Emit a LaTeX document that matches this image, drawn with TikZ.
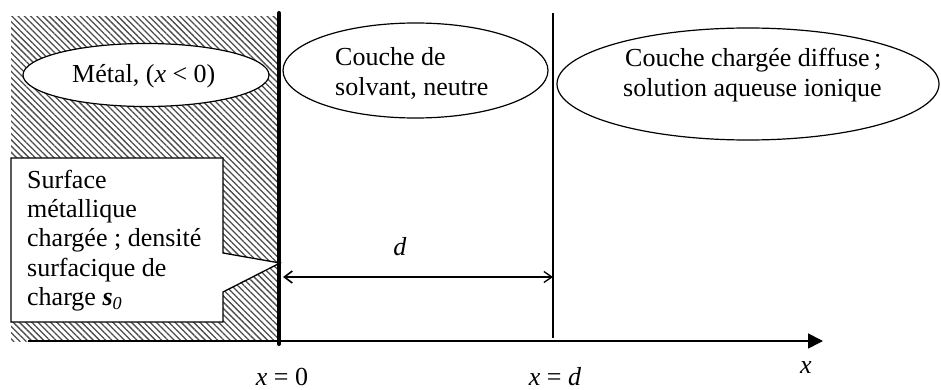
\documentclass[tikz,border=0pt]{standalone}
\usepackage{fontspec}
\setmainfont{Liberation Serif}
\usetikzlibrary{shapes.geometric,patterns.meta,arrows.meta}
\begin{document}
\begin{tikzpicture}[x=1pt,y=-1pt,
  font=\fontsize{26}{30}\selectfont,
  oval/.style={draw, ellipse, line width=1.2pt, inner sep=0pt, fill=white},
  lbl/.style={inner sep=0pt, anchor=base west},
  lblc/.style={inner sep=0pt, anchor=base}]
\useasboundingbox (0,0) rectangle (941,390);
% metal (hatched)
\fill[pattern={Lines[angle=-45,distance=4.4pt,line width=1.3pt]}, pattern color=black!70]
  (11,17) rectangle (279,341);
% callout
\draw[line width=1.3pt, fill=white, line join=miter]
  (11,158) -- (223,158) -- (223,253) -- (280,263) -- (223,292) -- (223,322) -- (11,322) -- cycle;
\node[lbl] (c1) at (27,188) {Surface};
\node[lbl] (c2) at (27,217.4) {métallique};
\node[lbl] (c3) at (27,246.8) {chargée ; densité};
\node[lbl] (c4) at (27,276.2) {surfacique de};
\node[lbl] (c5) at (27,305.6) {charge \textbf{\textit{s}}\textsubscript{\textit{0}}};
% surface line and layer boundary
\coordinate (surfTop) at (279,13);
\coordinate (surfBot) at (279,344);
\draw[line width=4pt, line cap=round] (surfTop) -- (surfBot);
\coordinate (layTop) at (553,13);
\coordinate (layBot) at (553,338);
\draw[line width=1.2pt] (layTop) -- (layBot);
% axis
\coordinate (ax0) at (28,341);
\coordinate (ax1) at (823,341);
\draw[line width=1.6pt, -{Triangle[length=15pt,width=15pt]}] (ax0) -- (ax1);
% d arrow
\coordinate (d0) at (283,277);
\coordinate (d1) at (553,277);
\draw[line width=1.3pt, {Straight Barb[length=8pt,width=12pt,line width=1.6pt]}-{Straight Barb[length=8pt,width=11pt]}] (d0) -- (d1);
\node[lblc] (dl) at (400,255) {\textit{d}};
% ellipses
\node[oval, minimum width=246pt, minimum height=63pt] (metal) at (146,75) {};
\node[lbl] (metaltxt) at (72,83) {Métal, (\textit{x} < 0)};
\node[oval, minimum width=265pt, minimum height=95pt] (solv) at (415.5,70.5) {};
\node[lbl] (s1) at (335,65.7) {Couche de};
\node[lbl] (s2) at (335,95.7) {solvant, neutre};
\node[oval, minimum width=382pt, minimum height=112pt] (diff) at (748,84) {};
\node[lbl] (f1) at (625,66.7) {Couche chargée diffuse\,;};
\node[lbl] (f2) at (623,96.7) {solution aqueuse ionique};
% axis labels
\node[lblc] (x0) at (282,385) {\textit{x} = 0};
\node[lblc] (xd) at (555,385) {\textit{x} = \textit{d}};
\node[lblc] (xl) at (806,373) {\textit{x}};
\end{tikzpicture}
\end{document}
